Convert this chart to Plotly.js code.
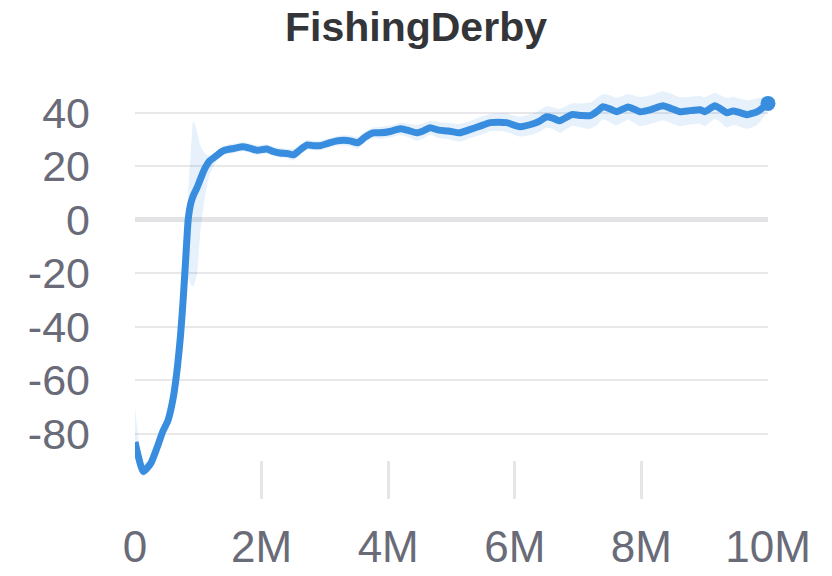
<!DOCTYPE html>
<html lang="en">
<head>
    <meta charset="UTF-8">
    <title>FishingDerby</title>
    <script src="https://cdn.plot.ly/plotly-3.0.1.min.js"></script>
    <style>
        body { margin: 0; background: #fff; }
        #plot { width: 832px; height: 576px; }
    </style>
</head>
<body>
    <div id="plot"></div>
    <script>
        // steps in millions of frames
        const steps = [0, 0.13, 0.25, 0.35, 0.44, 0.52, 0.6, 0.67, 0.72, 0.76, 0.8, 0.84, 0.88, 0.92, 0.98,
            1.03, 1.1, 1.18, 1.29, 1.37, 1.45, 1.57, 1.7, 1.81, 1.93, 2.08, 2.18, 2.29, 2.4, 2.5, 2.6, 2.72,
            2.82, 2.92, 3.05, 3.19, 3.3, 3.4, 3.52, 3.64, 3.76, 3.87, 4.03, 4.19, 4.3, 4.45, 4.55, 4.66, 4.8,
            4.95, 5.13, 5.3, 5.45, 5.61, 5.75, 5.87, 6.08, 6.29, 6.4, 6.5, 6.6, 6.71, 6.9, 7.05, 7.19, 7.3,
            7.39, 7.5, 7.61, 7.79, 7.98, 8.15, 8.34, 8.48, 8.61, 8.77, 8.93, 9.0, 9.16, 9.25, 9.35, 9.45,
            9.55, 9.67, 9.83, 10.0];

        const meanScore = [-83, -94, -91, -85, -79, -75, -67, -55, -43, -30, -15, 0, 6, 9, 12,
            15, 19, 22, 24, 25.5, 26.2, 26.7, 27.3, 26.8, 26, 26.5, 25.6, 25, 24.8, 24.3, 26, 28,
            27.7, 27.7, 28.6, 29.5, 29.7, 29.5, 28.8, 31, 32.5, 32.5, 33, 34, 33.5, 32.5, 33.2, 34.4, 33.5,
            33.2, 32.5, 33.8, 35, 36.3, 36.5, 36.3, 34.8, 35.9, 37, 38.5, 38, 37, 39.3, 39, 38.9, 40.5,
            42.3, 41.5, 40.4, 42.2, 40.4, 41.2, 42.6, 41.5, 40.4, 40.8, 41.1, 40.4, 42.6, 41.5, 40, 40.7,
            40.1, 39.3, 40.4, 43.5];

        const upperScore = [-70, -91, -89, -83, -77, -72, -63, -50, -37, -22, -8, 10, 25, 37, 33,
            28, 25, 24, 25.5, 27, 28, 28.5, 29, 28.5, 27.8, 28.2, 27.3, 26.8, 26.6, 26.5, 27.8, 29.7,
            29.5, 29.5, 30.4, 31.3, 31.6, 31.5, 31, 33, 34.5, 34.7, 35.2, 36.3, 36, 35.5, 36, 37, 36.5,
            36.3, 35.8, 37, 38.3, 39.5, 39.8, 39.8, 38.5, 39.8, 41, 42.5, 42, 41.5, 43.5, 43.5, 43.8, 45.5,
            47, 46.5, 45.5, 47, 45.8, 46.5, 48, 47, 45.8, 46, 46.3, 45.8, 47.5, 46.5, 45.5, 46,
            45.3, 44.6, 45.3, 46];

        const lowerScore = [-85, -96, -93, -87, -81, -78, -71, -60, -50, -40, -30, -22, -24, -25, -20,
            -5, 8, 17, 22, 24, 24.5, 25, 25.6, 25.1, 24.2, 24.8, 23.9, 23.2, 23, 22.1, 24.2, 26.3,
            26, 26, 26.8, 27.7, 27.8, 27.5, 26.6, 29, 30.5, 30.3, 30.8, 31.7, 31, 29.5, 30.4, 31.8, 30.5,
            30.1, 29.2, 30.6, 31.7, 33.1, 33.2, 32.8, 31.1, 32, 33, 34.5, 34, 32.5, 35.1, 34.5, 34, 35.5,
            37.6, 36.5, 35.3, 37.4, 35, 35.9, 37.2, 36, 35, 35.6, 35.9, 35, 37.7, 36.5, 34.5, 35.4,
            34.9, 34, 35.5, 41];

        const xTickVals = [0, 2, 4, 6, 8, 10];
        const xTickText = ['0', '2M', '4M', '6M', '8M', '10M'];
        const yTickVals = [-80, -60, -40, -20, 0, 20, 40];
        const yTickText = ['-80', '-60', '-40', '-20', '0', '20', '40'];

        const blue = '#388ddf';
        const tickColor = '#6a6b78';

        const band = {
            x: steps.concat(steps.slice().reverse()),
            y: upperScore.concat(lowerScore.slice().reverse()),
            type: 'scatter',
            mode: 'lines',
            fill: 'toself',
            fillcolor: 'rgba(56,141,223,0.12)',
            line: { width: 0, shape: 'spline', smoothing: 0.5 },
            hoverinfo: 'skip',
            showlegend: false
        };

        const meanLine = {
            x: steps,
            y: meanScore,
            type: 'scatter',
            mode: 'lines',
            line: { color: blue, width: 7, shape: 'spline', smoothing: 0.5 },
            showlegend: false
        };

        const endPoint = {
            x: [steps[steps.length - 1]],
            y: [meanScore[meanScore.length - 1]],
            type: 'scatter',
            mode: 'markers',
            marker: { color: blue, size: 15 },
            cliponaxis: false,
            showlegend: false
        };

        const layout = {
            width: 832,
            height: 576,
            margin: { l: 135, r: 64, t: 86, b: 77 },
            paper_bgcolor: '#ffffff',
            plot_bgcolor: '#ffffff',
            font: { family: '"Liberation Sans", Arial, sans-serif' },
            title: {
                text: '<b>FishingDerby</b>',
                font: { size: 41, color: '#333538' },
                x: 0.5,
                xanchor: 'center',
                y: 0.953,
                yanchor: 'middle',
                yref: 'container'
            },
            xaxis: {
                range: [0, 10],
                tickvals: xTickVals,
                ticktext: xTickText,
                showgrid: false,
                zeroline: false,
                showline: false,
                ticks: 'inside',
                ticklen: 38,
                tickwidth: 3,
                tickcolor: '#e6e6e8',
                ticklabelstandoff: 18,
                tickfont: { size: 44, color: tickColor }
            },
            yaxis: {
                range: [-104.3, 50],
                tickvals: yTickVals,
                ticktext: yTickText,
                showgrid: true,
                gridcolor: '#e8e8ea',
                gridwidth: 2,
                zeroline: true,
                zerolinecolor: '#e3e3e5',
                zerolinewidth: 5,
                showline: false,
                ticks: '',
                ticklabelstandoff: 44,
                tickfont: { size: 43, color: tickColor }
            }
        };

        Plotly.newPlot('plot', [band, meanLine, endPoint], layout, { displayModeBar: false, staticPlot: true });
    </script>
</body>
</html>
